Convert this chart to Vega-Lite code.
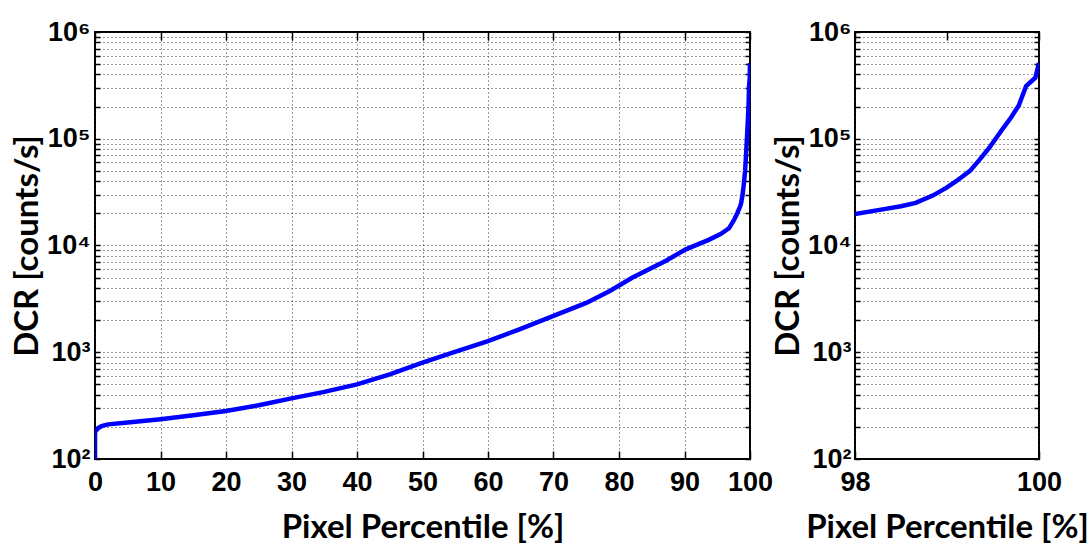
{
  "$schema": "https://vega.github.io/schema/vega-lite/v6.json",
  "padding": {"left": 10, "top": 17, "right": 5, "bottom": 5},
  "background": "white",
  "datasets": {
    "dcr": [
      {"pct": 0, "dcr": 100},
      {"pct": 0, "dcr": 180},
      {"pct": 0.5, "dcr": 195},
      {"pct": 1, "dcr": 203},
      {"pct": 2, "dcr": 211},
      {"pct": 5, "dcr": 220},
      {"pct": 10, "dcr": 236},
      {"pct": 15, "dcr": 257},
      {"pct": 20, "dcr": 282},
      {"pct": 25, "dcr": 319},
      {"pct": 30, "dcr": 370},
      {"pct": 35, "dcr": 425},
      {"pct": 40, "dcr": 500},
      {"pct": 45, "dcr": 620},
      {"pct": 50, "dcr": 798},
      {"pct": 54.6, "dcr": 990},
      {"pct": 60, "dcr": 1270},
      {"pct": 64.8, "dcr": 1640},
      {"pct": 70, "dcr": 2190},
      {"pct": 75, "dcr": 2900},
      {"pct": 78.6, "dcr": 3750},
      {"pct": 82, "dcr": 4990},
      {"pct": 87.1, "dcr": 7160},
      {"pct": 90.2, "dcr": 9210},
      {"pct": 93.7, "dcr": 11300},
      {"pct": 95.5, "dcr": 12800},
      {"pct": 96.8, "dcr": 14500},
      {"pct": 97.6, "dcr": 17500},
      {"pct": 98.0, "dcr": 19700},
      {"pct": 98.3, "dcr": 21800},
      {"pct": 98.5, "dcr": 23300},
      {"pct": 98.66, "dcr": 25100},
      {"pct": 98.85, "dcr": 29500},
      {"pct": 99.0, "dcr": 35000},
      {"pct": 99.1, "dcr": 40000},
      {"pct": 99.25, "dcr": 50000},
      {"pct": 99.35, "dcr": 63000},
      {"pct": 99.46, "dcr": 82400},
      {"pct": 99.6, "dcr": 122000},
      {"pct": 99.7, "dcr": 160000},
      {"pct": 99.78, "dcr": 205000},
      {"pct": 99.86, "dcr": 312000},
      {"pct": 99.96, "dcr": 373000},
      {"pct": 100, "dcr": 513000}
    ]
  },
  "config": {
    "view": {"stroke": "black", "strokeWidth": 2},
    "axis": {
      "domain": false,
      "gridColor": "#222",
      "gridDash": [1, 3],
      "gridWidth": 1,
      "gridOpacity": 0.9,
      "tickColor": "black",
      "tickWidth": 1.5,
      "labelFont": "Liberation Sans",
      "labelFontWeight": "bold",
      "labelFontSize": 27,
      "labelColor": "black",
      "titleFont": "Lato",
      "titleFontWeight": "bold",
      "titleFontSize": 33,
      "titleColor": "black",
      "labelOverlap": false,
      "labelBound": false,
      "labelFlush": false
    }
  },
  "bounds": "flush",
  "spacing": 105,
  "hconcat": [
    {
      "width": 655,
      "height": 427,
      "data": {"name": "dcr"},
      "resolve": {"scale": {"x": "independent", "y": "independent"}},
      "layer": [
        {
          "mark": {"type": "line", "color": "#0000ff", "strokeWidth": 4.5, "clip": true},
          "encoding": {
            "x": {"field": "pct", "type": "quantitative", "scale": {"domain": [0, 100], "nice": false},
              "axis": {"orient": "bottom", "values": [0,10,20,30,40,50,60,70,80,90,100], "format": "d", "title": "Pixel Percentile [%]", "tickSize": -8, "labelPadding": 18, "titlePadding": 16, "grid": true}},
            "y": {"field": "dcr", "type": "quantitative", "scale": {"type": "log", "domain": [100, 1000000], "nice": false},
              "axis": {"orient": "left", "title": "DCR [counts/s]", "grid": true, "titlePadding": 2, "labelPadding": 10,
                "values": [100,200,300,400,500,600,700,800,900,1000,2000,3000,4000,5000,6000,7000,8000,9000,10000,20000,30000,40000,50000,60000,70000,80000,90000,100000,200000,300000,400000,500000,600000,700000,800000,900000,1000000],
                "tickSize": -5,
                "labelExpr": "datum.value == 100 ? '10²' : datum.value == 1000 ? '10³' : datum.value == 10000 ? '10⁴' : datum.value == 100000 ? '10⁵' : datum.value == 1000000 ? '10⁶' : ''"}}
          }
        },
        {
          "mark": {"type": "line", "opacity": 0},
          "encoding": {
            "x": {"field": "pct", "type": "quantitative", "scale": {"domain": [0, 100], "nice": false},
              "axis": {"orient": "top", "values": [0,10,20,30,40,50,60,70,80,90,100], "title": null, "labels": false, "tickSize": -8, "grid": false}},
            "y": {"field": "dcr", "type": "quantitative", "scale": {"type": "log", "domain": [100, 1000000], "nice": false},
              "axis": {"orient": "right", "title": null, "labels": false, "grid": false, "tickSize": -5,
                "values": [100,200,300,400,500,600,700,800,900,1000,2000,3000,4000,5000,6000,7000,8000,9000,10000,20000,30000,40000,50000,60000,70000,80000,90000,100000,200000,300000,400000,500000,600000,700000,800000,900000,1000000]}}
          }
        }
      ]
    },
    {
      "width": 184,
      "height": 427,
      "data": {"name": "dcr"},
      "transform": [{"filter": "datum.pct >= 98"}],
      "resolve": {"scale": {"x": "independent", "y": "independent"}},
      "layer": [
        {
          "mark": {"type": "line", "color": "#0000ff", "strokeWidth": 4.5, "clip": true},
          "encoding": {
            "x": {"field": "pct", "type": "quantitative", "scale": {"domain": [98, 100], "nice": false},
              "axis": {"orient": "bottom", "values": [98, 99, 100], "format": "d", "title": "Pixel Percentile [%]", "tickSize": -8, "labelPadding": 18, "titlePadding": 16, "grid": true}},
            "y": {"field": "dcr", "type": "quantitative", "scale": {"type": "log", "domain": [100, 1000000], "nice": false},
              "axis": {"orient": "left", "title": "DCR [counts/s]", "grid": true, "titlePadding": 2, "labelPadding": 9,
                "values": [100,200,300,400,500,600,700,800,900,1000,2000,3000,4000,5000,6000,7000,8000,9000,10000,20000,30000,40000,50000,60000,70000,80000,90000,100000,200000,300000,400000,500000,600000,700000,800000,900000,1000000],
                "tickSize": -5,
                "labelExpr": "datum.value == 100 ? '10²' : datum.value == 1000 ? '10³' : datum.value == 10000 ? '10⁴' : datum.value == 100000 ? '10⁵' : datum.value == 1000000 ? '10⁶' : ''"}}
          }
        },
        {
          "mark": {"type": "line", "opacity": 0},
          "encoding": {
            "x": {"field": "pct", "type": "quantitative", "scale": {"domain": [98, 100], "nice": false},
              "axis": {"orient": "top", "values": [98, 99, 100], "title": null, "labels": false, "tickSize": -8, "grid": false}},
            "y": {"field": "dcr", "type": "quantitative", "scale": {"type": "log", "domain": [100, 1000000], "nice": false},
              "axis": {"orient": "right", "title": null, "labels": false, "grid": false, "tickSize": -5,
                "values": [100,200,300,400,500,600,700,800,900,1000,2000,3000,4000,5000,6000,7000,8000,9000,10000,20000,30000,40000,50000,60000,70000,80000,90000,100000,200000,300000,400000,500000,600000,700000,800000,900000,1000000]}}
          }
        }
      ]
    }
  ]
}
